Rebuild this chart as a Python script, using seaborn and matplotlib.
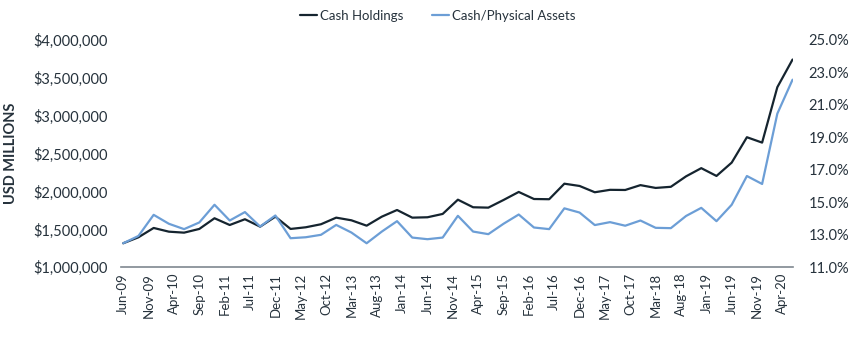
import matplotlib
matplotlib.use("Agg")
import matplotlib.pyplot as plt
import matplotlib.ticker as mticker
import numpy as np
import pandas as pd
import seaborn as sns

# Quarterly observations, Jun-09 through Jun-20
quarters = pd.date_range("2009-06-01", periods=45, freq="3MS")

cash_holdings = [
    1317000, 1396000, 1519000, 1470000, 1457000, 1506000, 1647000, 1558000,
    1634000, 1536000, 1668000, 1506000, 1528000, 1568000, 1655000, 1620000,
    1549000, 1668000, 1756000, 1655000, 1660000, 1704000, 1892000, 1792000,
    1787000, 1888000, 1994000, 1901000, 1898000, 2103000, 2073000, 1990000,
    2022000, 2020000, 2084000, 2047000, 2062000, 2200000, 2308000, 2205000,
    2381000, 2716000, 2645000, 3376000, 3741000,
]

cash_to_physical = [
    12.48, 12.93, 14.23, 13.68, 13.35, 13.76, 14.85, 13.88,
    14.40, 13.51, 14.19, 12.79, 12.85, 13.00, 13.61, 13.14,
    12.48, 13.20, 13.84, 12.83, 12.73, 12.83, 14.17, 13.20,
    13.04, 13.68, 14.25, 13.45, 13.35, 14.63, 14.37, 13.60,
    13.78, 13.56, 13.88, 13.43, 13.41, 14.16, 14.66, 13.84,
    14.85, 16.62, 16.13, 20.46, 22.55,
]

tick_labels = [
    "Jun-09", "Nov-09", "Apr-10", "Sep-10", "Feb-11", "Jul-11", "Dec-11",
    "May-12", "Oct-12", "Mar-13", "Aug-13", "Jan-14", "Jun-14", "Nov-14",
    "Apr-15", "Sep-15", "Feb-16", "Jul-16", "Dec-16", "May-17", "Oct-17",
    "Mar-18", "Aug-18", "Jan-19", "Jun-19", "Nov-19", "Apr-20",
]

series_names = ["Cash Holdings", "Cash/Physical Assets"]

left_ticks = [1_000_000, 1_500_000, 2_000_000, 2_500_000, 3_000_000, 3_500_000, 4_000_000]
right_ticks = [11, 13, 15, 17, 19, 21, 23, 25]

# months elapsed since the first quarter, used as the date axis
start = quarters[0]
months = [(d.year - start.year) * 12 + (d.month - start.month) for d in quarters]

df = pd.DataFrame({
    "month": months,
    "cash": cash_holdings,
    "ratio": cash_to_physical,
})

sns.set_theme(style="white")
plt.rcParams["font.family"] = ["Lato", "DejaVu Sans"]

TEXT = "#26323c"
DARK = "#15242f"
BLUE = "#6c9ed6"
AXIS = "#7f8890"

fig = plt.figure(figsize=(8.5, 3.47), dpi=100)
ax = fig.add_axes([0.142, 0.2297, 0.791, 0.6553])
ax2 = ax.twinx()

sns.lineplot(data=df, x="month", y="cash", ax=ax, color=DARK, linewidth=1.6,
             label=series_names[0], legend=False)
sns.lineplot(data=df, x="month", y="ratio", ax=ax2, color=BLUE, linewidth=1.6,
             label=series_names[1], legend=False)

ax.set_xlim(-0.5, 132.1)
ax.set_ylim(left_ticks[0], left_ticks[-1])
ax2.set_ylim(right_ticks[0], right_ticks[-1])

ax.set_xticks(range(0, 5 * len(tick_labels), 5))
ax.set_xticklabels(tick_labels, rotation=90, fontsize=9.5, color=TEXT)
ax.yaxis.set_major_locator(mticker.FixedLocator(left_ticks))
ax.yaxis.set_major_formatter(mticker.FuncFormatter(lambda v, p: f"${v:,.0f}"))
ax2.yaxis.set_major_locator(mticker.FixedLocator(right_ticks))
ax2.yaxis.set_major_formatter(mticker.FuncFormatter(lambda v, p: f"{v:.1f}%"))

ax.tick_params(axis="y", labelsize=10.5, colors=TEXT, length=0, pad=9)
ax2.tick_params(axis="y", labelsize=10.5, colors=TEXT, length=0, pad=11)
ax.tick_params(axis="x", length=0, pad=4)

for a in (ax, ax2):
    for side in ("top", "left", "right", "bottom"):
        a.spines[side].set_visible(False)
    a.grid(False)
ax.spines["bottom"].set_visible(True)
ax.spines["bottom"].set_color(AXIS)
ax.spines["bottom"].set_linewidth(1.2)

ax.set_xlabel("")
ax.set_ylabel("USD MILLIONS", fontsize=10.5, fontweight="bold", color=TEXT)
ax.yaxis.set_label_coords(-0.153, 0.5)
ax2.set_ylabel("")

h1, l1 = ax.get_legend_handles_labels()
h2, l2 = ax2.get_legend_handles_labels()
fig.legend(h1 + h2, l1 + l2, loc="center", bbox_to_anchor=(0.515, 0.955), ncol=2,
           frameon=False, fontsize=9.5, handlelength=1.3, handletextpad=0.2,
           columnspacing=2.2, labelcolor=TEXT)

fig.savefig("out.png", dpi=100)
